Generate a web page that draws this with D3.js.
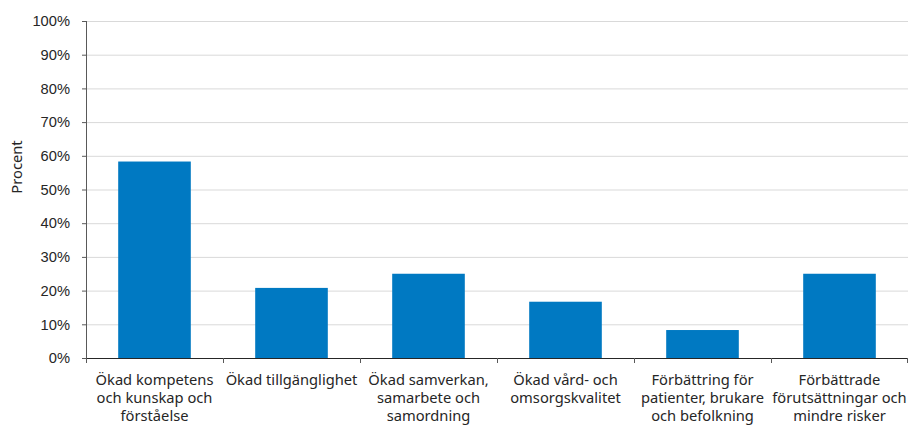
<!DOCTYPE html>
<html>
<head>
<meta charset="utf-8">
<script src="https://cdn.jsdelivr.net/npm/d3@7"></script>
<style>
  body { margin: 0; background: #fff; }
  svg { display: block; font-family: "Noto Sans", "Open Sans", sans-serif; }
</style>
</head>
<body>
<svg id="chart"></svg>
<script>
const width = 909;
const height = 428;

// Categories (line breaks as in the original)
const categories = [
  "Ökad kompetens\noch kunskap och\nförståelse",
  "Ökad tillgänglighet",
  "Ökad samverkan,\nsamarbete och\nsamordning",
  "Ökad vård- och\nomsorgskvalitet",
  "Förbättring för\npatienter, brukare\noch befolkning",
  "Förbättrade\nförutsättningar och\nmindre risker"
];
// Share in percent
const values = [58.3, 20.8, 25.0, 16.7, 8.3, 25.0];
const yTicks = [0, 10, 20, 30, 40, 50, 60, 70, 80, 90, 100];
const yTitle = "Procent";

const margin = { top: 21, right: 1, bottom: 70, left: 86 };
const innerWidth = width - margin.left - margin.right;
const innerHeight = height - margin.top - margin.bottom;
const fontSize = "14.7px";

const svg = d3.select("#chart")
  .attr("width", width)
  .attr("height", height);

const g = svg.append("g")
  .attr("transform", `translate(${margin.left},${margin.top})`);

const xScale = d3.scaleBand()
  .domain(categories)
  .range([0, innerWidth])
  .paddingInner(0.47)
  .paddingOuter(0.235);

const yScale = d3.scaleLinear()
  .domain([0, 100])
  .range([innerHeight, 0]);

// gridlines
g.selectAll(".grid")
  .data(yTicks.filter(d => d > 0))
  .enter()
  .append("line")
  .attr("x1", 0)
  .attr("x2", innerWidth)
  .attr("y1", d => yScale(d) + 0.5)
  .attr("y2", d => yScale(d) + 0.5)
  .attr("stroke", "#d9d9d9")
  .attr("stroke-width", 1);

// bars
g.selectAll("rect")
  .data(values)
  .enter()
  .append("rect")
  .attr("x", (d, i) => xScale(categories[i]))
  .attr("y", d => yScale(d))
  .attr("width", xScale.bandwidth())
  .attr("height", d => innerHeight - yScale(d))
  .attr("fill", "#0079c2");

// Y axis
const yAxis = d3.axisLeft(yScale)
  .tickValues(yTicks)
  .tickSize(4)
  .tickPadding(12)
  .tickFormat(d => d + "%");

const yAxisG = g.append("g").call(yAxis);
yAxisG.select(".domain").attr("stroke", "#595959").attr("d", `M0.5,${innerHeight}V0`);
yAxisG.selectAll(".tick line").attr("stroke", "#595959");
yAxisG.selectAll("text")
  .attr("fill", "#262626")
  .style("font-size", fontSize);

// X axis: ticks on category boundaries
const boundaries = d3.range(categories.length + 1).map(i => i * xScale.step() + 0.5 - (i === categories.length ? 1 : 0));
const xAxisG = g.append("g").attr("transform", `translate(0,${innerHeight})`);
xAxisG.append("line")
  .attr("x1", 0).attr("x2", innerWidth)
  .attr("y1", 0.5).attr("y2", 0.5)
  .attr("stroke", "#262626");
xAxisG.selectAll(".xtick")
  .data(boundaries)
  .enter()
  .append("line")
  .attr("x1", d => d).attr("x2", d => d)
  .attr("y1", 0).attr("y2", 5)
  .attr("stroke", "#595959");

const labels = xAxisG.selectAll(".xlabel")
  .data(categories)
  .enter()
  .append("text")
  .attr("text-anchor", "middle")
  .attr("fill", "#262626")
  .style("font-size", fontSize)
  .attr("transform", d => `translate(${xScale(d) + xScale.bandwidth() / 2},0)`);

labels.each(function (d) {
  const lines = d.split("\n");
  d3.select(this).selectAll("tspan")
    .data(lines)
    .enter()
    .append("tspan")
    .attr("x", 0)
    .attr("y", (l, i) => 27 + i * 18)
    .text(l => l);
});

// Y axis title
svg.append("text")
  .attr("transform", `translate(22,167) rotate(-90)`)
  .attr("text-anchor", "middle")
  .attr("fill", "#262626")
  .style("font-size", fontSize)
  .text(yTitle);
</script>
</body>
</html>
